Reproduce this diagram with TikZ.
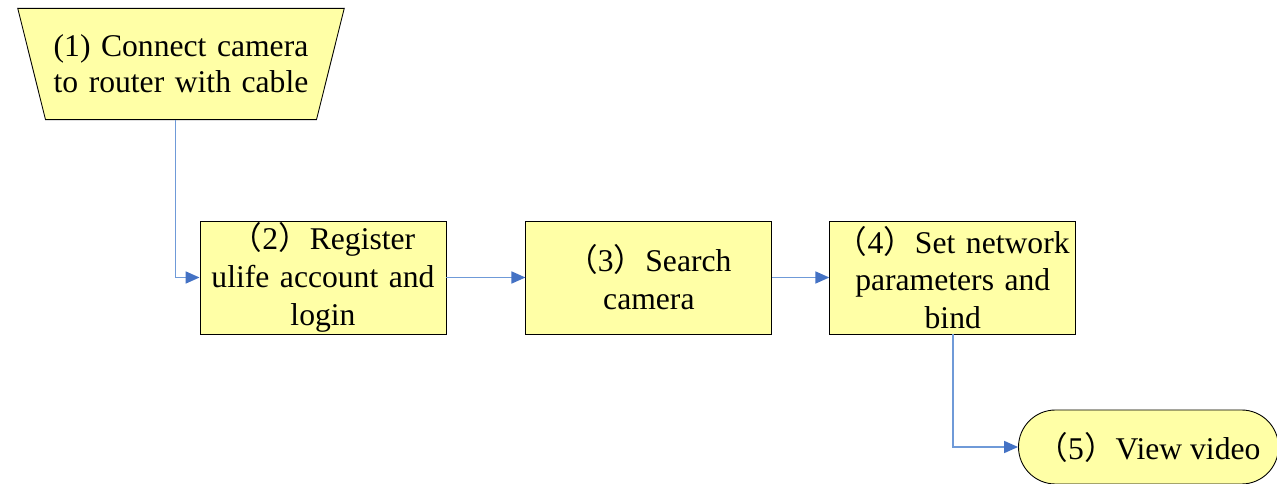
\documentclass[tikz,border=0pt]{standalone}
\usepackage{fontspec}
\setmainfont{Liberation Serif}
\newfontfamily\cjk{Noto Sans CJK SC}
\usetikzlibrary{arrows.meta}
\usetikzlibrary{positioning}
\usetikzlibrary{shapes.geometric,shapes.misc}
\definecolor{stepfill}{HTML}{FFFFA6}
\definecolor{flowline}{HTML}{6F9AD8}
\definecolor{flowtip}{HTML}{4472C4}
\newcommand{\fwlp}{{\cjk （}}
\newcommand{\fwrp}{{\cjk ）}}
\newcommand{\stepfont}{\fontsize{18}{21.5}\selectfont}

\begin{document}
\begin{tikzpicture}[
    stepbox/.style={rectangle, draw=black, fill=stepfill, line width=0.5pt,
        minimum width=4.92cm, minimum height=2.26cm, text width=4.7cm, align=center,
        inner sep=0pt, font=\stepfont},
    flow/.style={draw=flowline, line width=1pt,
        -{Triangle[length=0.28cm,width=0.24cm,color=flowtip]}}]
    \useasboundingbox (0,0) rectangle (25.54,-9.68);
    \node[trapezium, shape border rotate=180, trapezium angle=76,
        draw=black, fill=stepfill, line width=0.5pt, text width=5.42cm,
        align=center, inner xsep=0pt, inner ysep=0.53cm, font=\fontsize{18}{20.5}\selectfont]
        (connect) at (3.62,-1.28) {(1) Connect camera\\to router with cable};
    \node[stepbox] (register) at (6.46,-5.55) {\fwlp 2\fwrp Register\\ulife account and\\login};
    \node[stepbox, right=1.58cm of register] (search) {\fwlp 3\fwrp Search\\camera};
    \node[stepbox, right=1.14cm of search] (bind) {\fwlp 4\fwrp Set network\\parameters and\\bind};
    \node[rounded rectangle, draw=black, fill=stepfill, line width=0.5pt,
        minimum width=5.2cm, minimum height=1.48cm, inner sep=0pt, font=\stepfont]
        (view) at (22.97,-8.94) {\fwlp 5\fwrp View video};
    % connectors
    \draw[flow] ([xshift=-0.11cm]connect.south) |- (register.west);
    \draw[flow] (register) -- (search);
    \draw[flow] (search) -- (bind);
    \draw[flow] (bind) |- (view);
\end{tikzpicture}
\end{document}
